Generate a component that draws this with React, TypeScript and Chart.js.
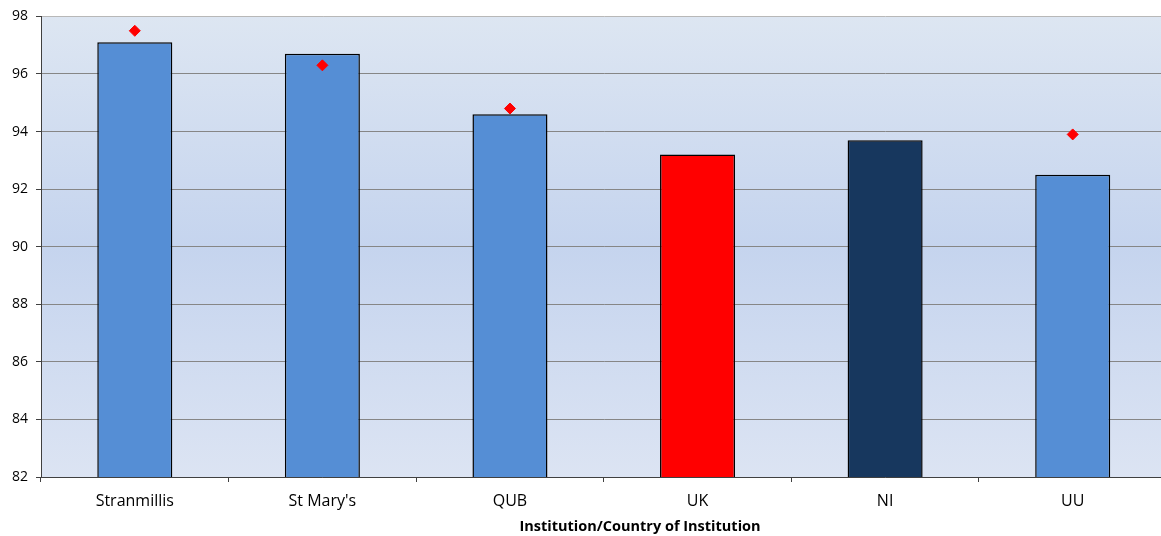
import React, { useEffect, useRef } from "react";
import { Chart, registerables } from "chart.js";

Chart.register(...registerables);

const categories = ["Stranmillis", "St Mary's", "QUB", "UK", "NI", "UU"];
const barValues = [97.1, 96.7, 94.6, 93.2, 93.7, 92.5];
const markerValues: (number | null)[] = [97.5, 96.3, 94.8, null, null, 93.9];
const barColors = ["#558ED5", "#558ED5", "#558ED5", "#FF0000", "#17375E", "#558ED5"];
const yTicks = [82, 84, 86, 88, 90, 92, 94, 96, 98];
const xTitle = "Institution/Country of Institution";

const bgPlugin = {
  id: "bgGradient",
  beforeDraw(chart: any) {
    const { ctx, chartArea } = chart;
    if (!chartArea) return;
    const g = ctx.createLinearGradient(0, chartArea.top, 0, chartArea.bottom);
    g.addColorStop(0, "#DDE6F2");
    g.addColorStop(0.5, "#C5D4EE");
    g.addColorStop(1, "#DCE4F3");
    ctx.save();
    ctx.fillStyle = g;
    ctx.fillRect(chartArea.left, chartArea.top, chartArea.right - chartArea.left, chartArea.bottom - chartArea.top);
    ctx.restore();
  },
};

const titlePlugin = {
  id: "xTitleText",
  afterDraw(chart: any) {
    const { ctx } = chart;
    ctx.save();
    ctx.font = "bold 14.5px 'Open Sans'";
    ctx.fillStyle = "#000000";
    ctx.textAlign = "center";
    ctx.textBaseline = "middle";
    ctx.fillText(xTitle, 640, 527);
    ctx.restore();
  },
};

const W = 1173;

export default function App() {
  const ref = useRef<HTMLCanvasElement>(null);
  useEffect(() => {
    document.body.style.margin = "0";
    document.body.style.overflow = "hidden";
    const chart = new Chart(ref.current!, {
      type: "bar",
      data: {
        labels: categories,
        datasets: [
          {
            type: "line",
            data: markerValues,
            showLine: false,
            pointStyle: "rectRot",
            pointRadius: 5.5,
            pointBackgroundColor: "#FF0000",
            pointBorderColor: "#FF0000",
            borderColor: "#FF0000",
            order: 0,
          } as any,
          {
            type: "bar",
            data: barValues,
            backgroundColor: barColors,
            borderColor: "#000000",
            borderWidth: 1.5,
            borderSkipped: false,
            barPercentage: 0.4,
            categoryPercentage: 1,
            order: 1,
          },
        ],
      },
      options: {
        animation: false,
        responsive: false,
        maintainAspectRatio: false,
        layout: { padding: { top: 15, left: 0, right: 0, bottom: 0 } },
        plugins: { legend: { display: false }, tooltip: { enabled: false } },
        scales: {
          x: {
            offset: true,
            grid: {
              offset: true,
              drawOnChartArea: false,
              drawTicks: true,
              tickLength: 5,
              color: "#404040",
            },
            border: { color: "#404040", width: 1 },
            ticks: {
              color: "#000000",
              font: { family: "'Open Sans'", size: 16 },
              padding: 10,
              maxRotation: 0,
            },
            afterFit(scale: any) {
              scale.height = 59;
            },
          },
          y: {
            min: 82,
            max: 98,
            afterBuildTicks(scale: any) {
              scale.ticks = yTicks.map((v) => ({ value: v }));
            },
            grid: {
              color: (c: any) => (c.tick && c.tick.value === 98 ? "#B8B8B8" : "#868686"),
              lineWidth: 1,
              drawTicks: true,
              tickLength: 5,
              tickColor: "#404040",
            },
            border: { color: "#404040", width: 1 },
            ticks: {
              color: "#000000",
              font: { family: "'Open Sans'", size: 14 },
              padding: 8,
            },
            afterFit(scale: any) {
              scale.width = 41;
            },
          },
        },
      },
      plugins: [bgPlugin, titlePlugin],
    });
    return () => chart.destroy();
  }, []);
  return (
    <div style={{ position: "fixed", left: 0, top: 0, width: W, height: 536 }}>
      <canvas ref={ref} width={W} height={536} style={{ display: "block", width: W, height: 536 }} />
    </div>
  );
}
